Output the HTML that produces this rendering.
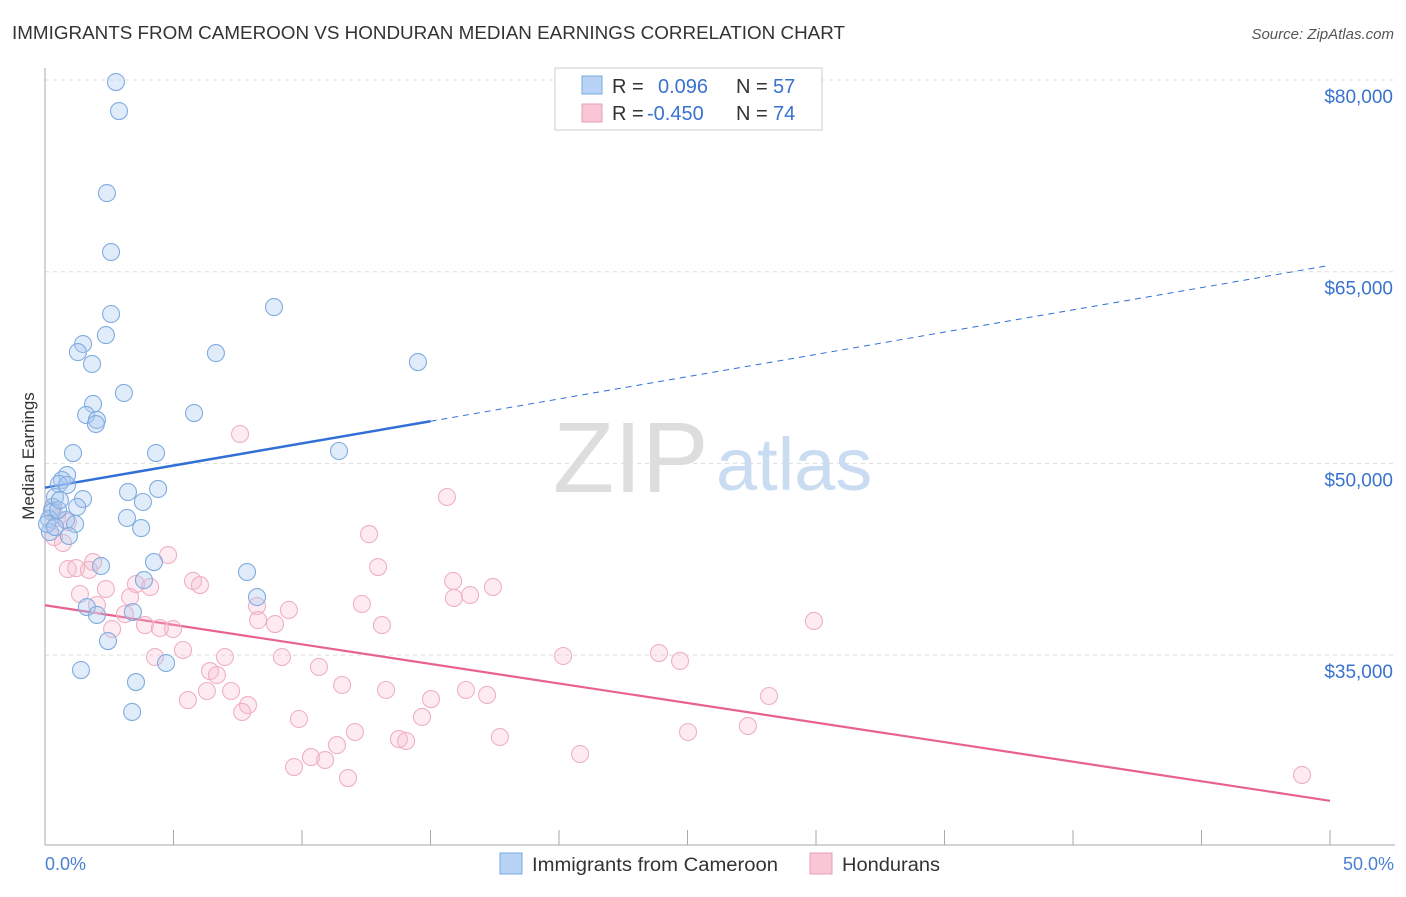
<!DOCTYPE html>
<html><head><meta charset="utf-8"><style>
body{margin:0;background:#fff;font-family:"Liberation Sans",sans-serif;}
svg text{font-family:"Liberation Sans",sans-serif;}
</style></head><body>
<svg id="chart" width="1406" height="892" xmlns="http://www.w3.org/2000/svg">
<text x="12" y="39" font-size="18" fill="#333" textLength="833" lengthAdjust="spacingAndGlyphs">IMMIGRANTS FROM CAMEROON VS HONDURAN MEDIAN EARNINGS CORRELATION CHART</text>
<text x="1394" y="39" font-size="15" fill="#555" font-style="italic" text-anchor="end">Source: ZipAtlas.com</text>
<g id="grid"></g>
<g>
<text x="553" y="492" font-size="100" fill="#ddd" font-family="Liberation Serif,serif">ZIP</text>
<text x="716" y="490" font-size="74" fill="#c9dcf2">atlas</text>
</g>
<line x1="45" y1="68" x2="45" y2="845" stroke="#aaa"/>
<line x1="45" y1="845" x2="1395" y2="845" stroke="#aaa"/>
<g id="ticks"></g>
<text transform="translate(34,456) rotate(-90)" font-size="17" fill="#333" text-anchor="middle">Median Earnings</text>
<text x="45" y="870" font-size="18" fill="#4a7fd4">0.0%</text>
<text x="1394" y="870" font-size="18" fill="#4a7fd4" text-anchor="end">50.0%</text>
<g id="trends"></g>
<g id="pts"></g>
<g>
<rect x="555" y="68" width="267" height="62" fill="#fff" stroke="#ccc"/>
<rect x="582" y="76" width="20" height="18" fill="#b8d3f5" stroke="#7aa8e0"/>
<rect x="582" y="104" width="20" height="18" fill="#f9c6d5" stroke="#ec9fb6"/>
<text x="612" y="93" font-size="20" fill="#333">R =</text>
<text x="658" y="93" font-size="20" fill="#3a72d0">0.096</text>
<text x="736" y="93" font-size="20" fill="#333">N =</text>
<text x="773" y="93" font-size="20" fill="#3a72d0">57</text>
<text x="612" y="120" font-size="20" fill="#333">R =</text>
<text x="647" y="120" font-size="20" fill="#3a72d0">-0.450</text>
<text x="736" y="120" font-size="20" fill="#333">N =</text>
<text x="773" y="120" font-size="20" fill="#3a72d0">74</text>
</g>
<g>
<rect x="500" y="853" width="22" height="21" fill="#b8d3f5" stroke="#7aa8e0"/>
<text x="532" y="871" font-size="19" fill="#333" textLength="246" lengthAdjust="spacingAndGlyphs">Immigrants from Cameroon</text>
<rect x="810" y="853" width="22" height="21" fill="#f9c6d5" stroke="#ec9fb6"/>
<text x="842" y="871" font-size="19" fill="#333" textLength="98" lengthAdjust="spacingAndGlyphs">Hondurans</text>
</g>
</svg>
<script>
const yTicks=[80000,65000,50000,35000];
const yTickLabels=["$80,000","$65,000","$50,000","$35,000"];
const xTicks=[0,5,10,15,20,25,30,35,40,45,50];
const blueX=[2.76,2.88,2.41,2.57,8.91,2.57,2.37,1.48,1.28,6.65,1.83,14.51,3.07,1.87,5.80,1.60,2.02,1.98,11.44,4.32,1.09,0.86,0.66,0.54,0.86,3.23,4.40,0.39,1.48,3.81,1.25,0.31,0.27,0.82,3.19,0.16,1.17,3.74,0.93,0.19,4.24,2.18,7.86,3.85,8.25,1.63,3.42,2.02,2.45,4.71,1.40,3.54,3.39,0.08,0.51,0.39,0.58];
const blueY=[79840,77570,71150,66540,62230,61690,60040,59340,58710,58630,57780,57930,55510,54650,53940,53790,53400,53080,50970,50810,50810,49090,48700,48390,48310,47760,48000,47370,47210,46980,46590,46590,46200,45570,45730,45650,45260,44940,44320,44630,42280,41970,41500,40870,39540,38760,38370,38140,36100,34380,33830,32890,30550,45260,46350,45020,47130];
const pinkX=[7.59,15.64,12.61,0.27,0.47,0.89,0.35,0.70,1.87,4.79,0.89,1.21,1.71,12.96,15.88,17.43,5.76,6.03,3.54,4.09,2.37,16.54,1.36,15.91,3.31,2.02,8.25,9.49,12.33,3.11,8.29,8.95,13.11,29.92,2.61,3.89,4.98,4.47,5.37,4.28,20.16,23.89,24.71,7.00,9.22,10.66,6.42,6.69,11.56,6.30,7.24,13.27,16.38,17.20,28.17,5.56,7.90,15.02,7.67,9.88,14.67,12.06,11.36,17.70,25.02,27.35,13.77,14.05,10.35,10.90,9.69,11.79,20.82,48.91];
const pinkY=[52300,47370,44470,46350,45730,45410,44240,43770,42280,42830,41730,41810,41660,41890,40800,40330,40800,40480,40560,40330,40170,39700,39780,39470,39540,38920,38840,38530,39000,38210,37740,37430,37350,37670,37040,37350,37040,37120,35400,34850,34930,35160,34540,34850,34850,34070,33750,33440,32660,32190,32190,32270,32270,31880,31800,31480,31090,31560,30550,30000,30160,28980,27960,28590,28980,29450,28430,28280,27020,26790,26240,25380,27260,25620];
const blueTrend=[[0,48100],[15,53300],[50,65500]];
const pinkTrend=[[0,38900],[50,23600]];
const NS="http://www.w3.org/2000/svg";
const sx=v=>45+v/50*1285;
const sy=v=>80+(80000-v)/15000*191.7;
function mk(tag,parent,attrs){const e=document.createElementNS(NS,tag);for(const k in attrs)e.setAttribute(k,attrs[k]);parent.appendChild(e);return e;}
const grid=document.getElementById('grid');
yTicks.forEach((t,i)=>{
 const l=mk('line',grid,{x1:45,x2:1395,y1:sy(t),y2:sy(t),stroke:'#ddd','stroke-dasharray':'4,4'});
 
 
 const tx=mk('text',grid,{x:1393,y:sy(t)+23,'font-size':19,fill:'#3a72d0','text-anchor':'end'});
 tx.textContent=yTickLabels[i];
 
 
});
const ticks=document.getElementById('ticks');
xTicks.forEach(t=>{
 const l=mk('line',ticks,{x1:sx(t),x2:sx(t),y1:830,y2:845,stroke:'#aaa'});
 
 
});
const tr=document.getElementById('trends');
let l1=mk('line',tr,{x1:sx(blueTrend[0][0]),y1:sy(blueTrend[0][1]),x2:sx(blueTrend[1][0]),y2:sy(blueTrend[1][1]),stroke:'#2f6fd6','stroke-width':2.5});


let l2=mk('line',tr,{x1:sx(blueTrend[1][0]),y1:sy(blueTrend[1][1]),x2:sx(blueTrend[2][0]),y2:sy(blueTrend[2][1]),stroke:'#2f6fd6','stroke-width':1,'stroke-dasharray':'6,5'});


const pts=document.getElementById('pts');
pinkX.forEach((x,i)=>{
 const c=mk('circle',pts,{cx:sx(x),cy:sy(pinkY[i]),r:8.5,fill:'rgba(248,190,210,0.3)',stroke:'#efb0c4','stroke-width':1.1});
 
 
});
blueX.forEach((x,i)=>{
 const c=mk('circle',pts,{cx:sx(x),cy:sy(blueY[i]),r:8.5,fill:'rgba(170,200,240,0.35)',stroke:'#80acdf','stroke-width':1.1});
 
 
});
let l3=mk('line',tr,{x1:sx(pinkTrend[0][0]),y1:sy(pinkTrend[0][1]),x2:sx(pinkTrend[1][0]),y2:sy(pinkTrend[1][1]),stroke:'#e8628e','stroke-width':2.2});


</script>
</body></html>
